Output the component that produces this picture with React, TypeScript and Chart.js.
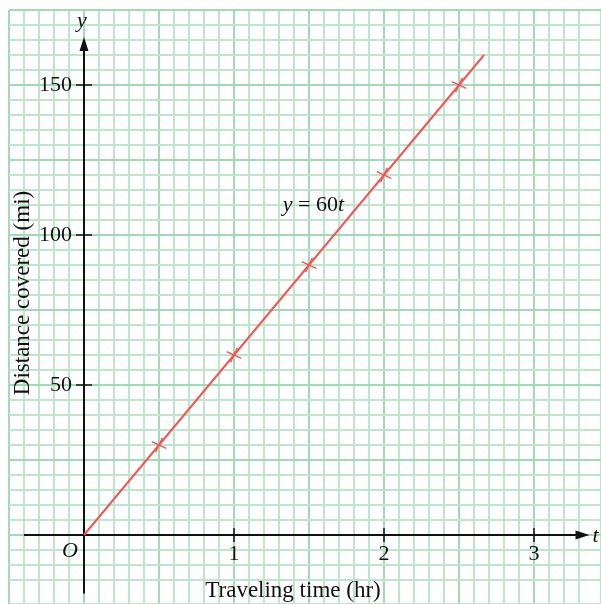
import React, { useEffect, useRef } from "react";
import { Chart, registerables } from "chart.js";

Chart.register(...registerables);

const lineT = [0, 2.667];
const lineY = [0, 160];
const markerT = [0.5, 1, 1.5, 2, 2.5];
const markerY = [30, 60, 90, 120, 150];
const xTickLabels = [1, 2, 3];
const yTickLabels = [50, 100, 150];
const xTitle = "Traveling time (hr)";
const yTitle = "Distance covered (mi)";
const equationLabel = { pre: "y", mid: " = 60", post: "t", t: 1.53, y: 110 };

const MINOR = "#bfe6cd";
const MAJOR = "#a3d9b6";
const RED = "#ef5757";
const SERIF = "'Liberation Serif', 'Times New Roman', serif";

const near = (v: number, w: number) => Math.abs(v - w) < 1e-6;

const axesPlugin = {
  id: "axesPlugin",
  beforeDatasetsDraw(chart: any) {
    const { ctx, scales } = chart;
    const xs = scales.x;
    const ys = scales.y;
    const x0 = xs.getPixelForValue(0);
    const y0 = ys.getPixelForValue(0);
    ctx.save();
    ctx.strokeStyle = "#111";
    ctx.fillStyle = "#111";
    ctx.lineWidth = 2;
    // x axis
    const xl = xs.getPixelForValue(-0.4);
    const xr = xs.getPixelForValue(3.37);
    ctx.beginPath();
    ctx.moveTo(xl, y0);
    ctx.lineTo(xr - 10, y0);
    ctx.stroke();
    ctx.beginPath();
    ctx.moveTo(xr, y0);
    ctx.lineTo(xr - 14, y0 - 4.5);
    ctx.lineTo(xr - 14, y0 + 4.5);
    ctx.closePath();
    ctx.fill();
    // y axis
    const yb = ys.getPixelForValue(-19.5);
    const yt = ys.getPixelForValue(166);
    ctx.beginPath();
    ctx.moveTo(x0, yb);
    ctx.lineTo(x0, yt + 10);
    ctx.stroke();
    ctx.beginPath();
    ctx.moveTo(x0, yt);
    ctx.lineTo(x0 - 4.5, yt + 14);
    ctx.lineTo(x0 + 4.5, yt + 14);
    ctx.closePath();
    ctx.fill();
    // tick marks
    ctx.lineWidth = 1.5;
    xTickLabels.forEach((v) => {
      const px = xs.getPixelForValue(v);
      ctx.beginPath();
      ctx.moveTo(px, y0 - 7);
      ctx.lineTo(px, y0 + 7);
      ctx.stroke();
    });
    yTickLabels.forEach((v) => {
      const py = ys.getPixelForValue(v);
      ctx.beginPath();
      ctx.moveTo(x0 - 8, py);
      ctx.lineTo(x0 + 8, py);
      ctx.stroke();
    });
    ctx.restore();
  },
  afterDraw(chart: any) {
    const { ctx, scales } = chart;
    const xs = scales.x;
    const ys = scales.y;
    const x0 = xs.getPixelForValue(0);
    const y0 = ys.getPixelForValue(0);
    ctx.save();
    ctx.fillStyle = "#111";
    ctx.textBaseline = "middle";
    ctx.textAlign = "center";
    ctx.font = `italic 22px ${SERIF}`;
    ctx.fillText("y", x0 - 2, 21);
    ctx.fillText("O", x0 - 14, y0 + 16);
    ctx.textAlign = "left";
    ctx.fillText("t", xs.getPixelForValue(3.39), y0 + 1);
    // equation
    const ex = xs.getPixelForValue(equationLabel.t);
    const ey = ys.getPixelForValue(equationLabel.y);
    ctx.font = `22px ${SERIF}`;
    const wMid = ctx.measureText(equationLabel.mid).width;
    ctx.font = `italic 22px ${SERIF}`;
    const wPre = ctx.measureText(equationLabel.pre).width;
    const wPost = ctx.measureText(equationLabel.post).width;
    let cx = ex - (wPre + wMid + wPost) / 2;
    ctx.fillText(equationLabel.pre, cx, ey);
    cx += wPre;
    ctx.font = `22px ${SERIF}`;
    ctx.fillText(equationLabel.mid, cx, ey);
    cx += wMid;
    ctx.font = `italic 22px ${SERIF}`;
    ctx.fillText(equationLabel.post, cx, ey);
    // titles
    ctx.font = `23px ${SERIF}`;
    ctx.textAlign = "center";
    ctx.fillText(xTitle, 293, 591);
    ctx.translate(23, 293);
    ctx.rotate(-Math.PI / 2);
    ctx.fillText(yTitle, 0, 0);
    ctx.restore();
  },
};

export default function App() {
  const ref = useRef<HTMLCanvasElement | null>(null);
  useEffect(() => {
    if (!ref.current) return;
    const chart = new Chart(ref.current, {
      type: "scatter",
      data: {
        datasets: [
          {
            data: lineT.map((t, i) => ({ x: t, y: lineY[i] })),
            showLine: true,
            borderColor: RED,
            borderWidth: 2,
            pointRadius: 0,
          },
          {
            data: markerT.map((t, i) => ({ x: t, y: markerY[i] })),
            showLine: false,
            pointStyle: "cross",
            rotation: 25,
            pointRadius: 8,
            borderColor: RED,
            pointBorderWidth: 1.5,
          },
        ],
      },
      options: {
        animation: false,
        responsive: false,
        devicePixelRatio: 1,
        layout: { autoPadding: false, padding: { left: 9, top: 10, right: 0, bottom: 0 } },
        plugins: { legend: { display: false }, tooltip: { enabled: false } },
        scales: {
          x: {
            type: "linear",
            position: { y: 0 } as any,
            min: -0.5,
            max: 3.4467,
            border: { display: false },
            afterFit: (s: any) => {
              s.height = 0;
              s.paddingLeft = 0;
              s.paddingRight = 0;
              s.paddingTop = 0;
              s.paddingBottom = 0;
            },
            grid: {
              drawTicks: false,
              lineWidth: 2,
              color: (c: any) =>
                Math.round(c.tick.value * 10) % 5 === 0 ? MAJOR : MINOR,
            },
            ticks: {
              stepSize: 0.1,
              autoSkip: false,
              maxRotation: 0,
              padding: 6,
              color: "#111",
              font: { family: SERIF, size: 22 },
              callback: (v: any) => {
                const n = Number(v);
                const hit = xTickLabels.find((t) => near(t, n));
                return hit !== undefined ? String(hit) : "";
              },
            },
          },
          y: {
            type: "linear",
            position: { x: -0.08 } as any,
            min: -23,
            max: 175,
            border: { display: false },
            afterFit: (s: any) => {
              s.width = 0;
              s.paddingLeft = 0;
              s.paddingRight = 0;
              s.paddingTop = 0;
              s.paddingBottom = 0;
            },
            grid: {
              drawTicks: false,
              lineWidth: 2,
              color: (c: any) =>
                Math.round(c.tick.value) % 25 === 0 ? MAJOR : MINOR,
            },
            ticks: {
              stepSize: 5,
              autoSkip: false,
              padding: 0,
              color: "#111",
              font: { family: SERIF, size: 22 },
              callback: (v: any) => {
                const n = Number(v);
                const hit = yTickLabels.find((t) => near(t, n));
                return hit !== undefined ? String(hit) : "";
              },
            },
          },
        },
      },
      plugins: [axesPlugin],
    });
    return () => chart.destroy();
  }, []);
  return (
    <canvas
      ref={ref}
      width={601}
      height={604}
      style={{ position: "absolute", left: 0, top: 0, width: 601, height: 604 }}
    />
  );
}
